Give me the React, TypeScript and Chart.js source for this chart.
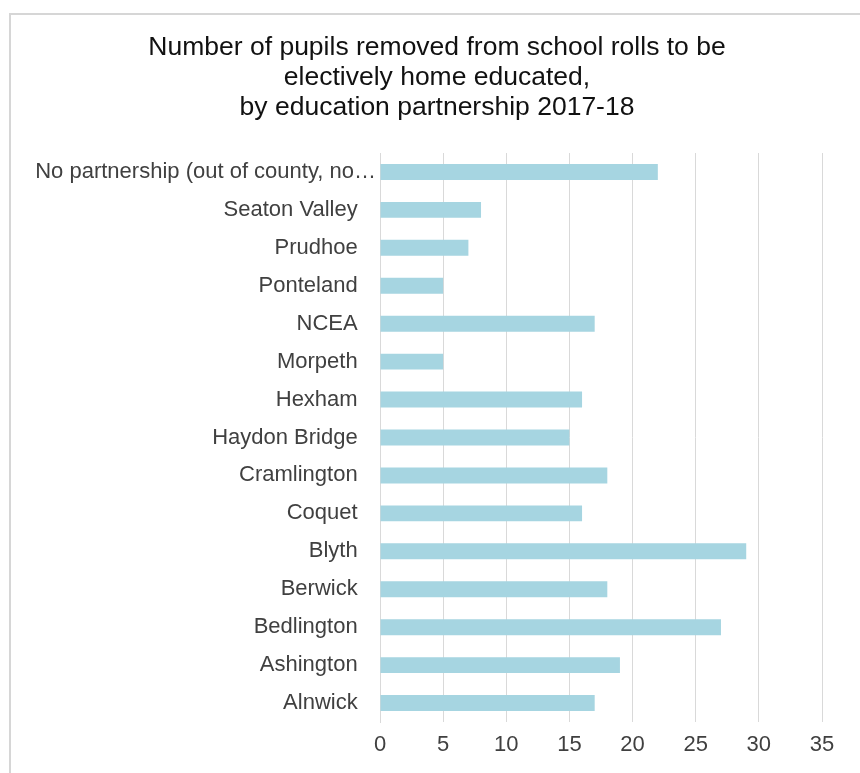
import React, { useEffect, useRef } from "react";
import { Chart, registerables } from "chart.js";

Chart.register(...registerables);

const TITLE_LINES = [
  "Number of pupils removed from school rolls to be",
  "electively home educated,",
  "by education partnership 2017-18",
];

const CATEGORIES = [
  "No partnership (out of county, no…",
  "Seaton Valley",
  "Prudhoe",
  "Ponteland",
  "NCEA",
  "Morpeth",
  "Hexham",
  "Haydon Bridge",
  "Cramlington",
  "Coquet",
  "Blyth",
  "Berwick",
  "Bedlington",
  "Ashington",
  "Alnwick",
];

const PUPILS = [22, 8, 7, 5, 17, 5, 16, 15, 18, 16, 29, 18, 27, 19, 17];

const X_MIN = 0;
const X_MAX = 35;
const X_STEP = 5;

const FONT = "'Liberation Sans', Arial, sans-serif";

const titlePlugin = {
  id: "centredTitle",
  afterDraw(chart: any) {
    const ctx = chart.ctx as CanvasRenderingContext2D;
    ctx.save();
    ctx.font = `26.5px ${FONT}`;
    ctx.fillStyle = "#111111";
    ctx.textAlign = "center";
    ctx.textBaseline = "middle";
    TITLE_LINES.forEach((line, i) => {
      ctx.fillText(line, 437, 48 + i * 30);
    });
    ctx.restore();
  },
};

export default function App() {
  const canvasRef = useRef<HTMLCanvasElement | null>(null);

  useEffect(() => {
    const canvas = canvasRef.current;
    if (!canvas) return;
    const chart = new Chart(canvas, {
      type: "bar",
      data: {
        labels: CATEGORIES,
        datasets: [
          {
            data: PUPILS,
            backgroundColor: "#a6d5e1",
            borderWidth: 0,
            categoryPercentage: 1,
            barPercentage: 0.42,
          },
        ],
      },
      plugins: [titlePlugin],
      options: {
        indexAxis: "y",
        animation: false,
        responsive: false,
        maintainAspectRatio: false,
        layout: { padding: { top: 153, right: 38, bottom: 15, left: 0 } },
        plugins: {
          legend: { display: false },
          tooltip: { enabled: false },
          title: { display: false },
        },
        scales: {
          x: {
            min: X_MIN,
            max: X_MAX,
            ticks: {
              stepSize: X_STEP,
              color: "#404040",
              font: { family: FONT, size: 22 },
              padding: 10,
            },
            grid: { color: "#d9d9d9", lineWidth: 1, drawTicks: false },
            border: { display: false },
            afterFit: (s: any) => {
              s.height = 36;
            },
          },
          y: {
            ticks: {
              color: "#404040",
              font: { family: FONT, size: 22 },
              padding: 4,
              autoSkip: false,
              callback: (_v: any, i: number) => {
                const label = CATEGORIES[i];
                return label.endsWith("…") ? label : label + "   ";
              },
            },
            grid: { display: false, drawTicks: false },
            border: { display: true, color: "#d9d9d9", width: 1 },
            afterFit: (s: any) => {
              s.width = 380;
            },
          },
        },
      },
    });
    return () => chart.destroy();
  }, []);

  return (
    <div style={{ position: "fixed", left: 0, top: 0, width: 860, height: 773, background: "#fff" }}>
      <div
        style={{
          position: "absolute",
          left: 9,
          top: 13,
          right: -4,
          bottom: -4,
          borderLeft: "2px solid #d6d6d6",
          borderTop: "2px solid #d6d6d6",
        }}
      />
      <canvas
        ref={canvasRef}
        width={860}
        height={773}
        style={{ position: "absolute", left: 0, top: 0, width: 860, height: 773 }}
      />
    </div>
  );
}
